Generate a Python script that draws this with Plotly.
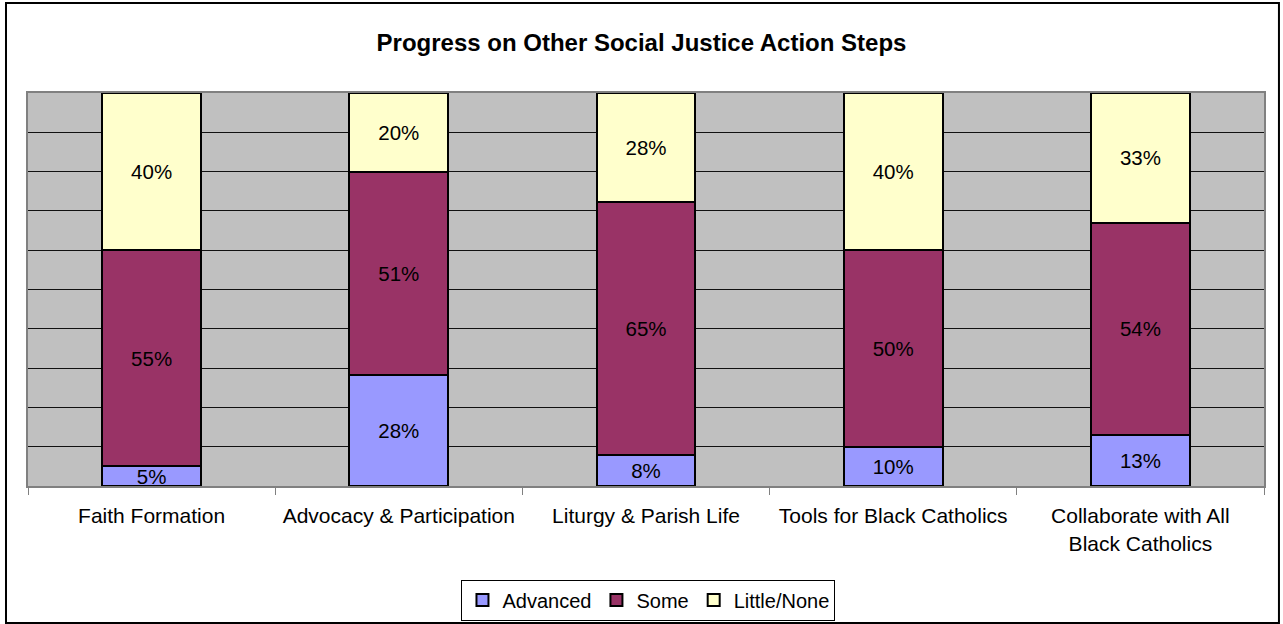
import plotly.graph_objects as go

categories = ["Faith Formation", "Advocacy & Participation", "Liturgy & Parish Life",
              "Tools for Black Catholics", "Collaborate with All<br>Black Catholics"]
advanced = [5, 28, 8, 10, 13]
some = [55, 51, 65, 50, 54]
little_none = [40, 20, 28, 40, 33]

series = [("Advanced", advanced, "#9999FF"),
          ("Some", some, "#993366"),
          ("Little/None", little_none, "#FFFFCC")]

FONT = "Arial, Liberation Sans, sans-serif"

fig = go.Figure()
for name, vals, col in series:
    fig.add_trace(go.Bar(
        x=categories, y=vals, name=name,
        marker=dict(color=col, line=dict(color="black", width=2)),
        text=[f"{v}%" for v in vals],
        texttemplate="%{text}",
        textposition="inside",
        insidetextanchor="middle",
        textangle=0,
        constraintext="none",
        textfont=dict(size=20.5, color="black", family=FONT),
        width=0.4,
    ))

fig.update_layout(
    barmode="stack",
    barnorm="percent",
    width=1283, height=624,
    margin=dict(l=28, r=19, t=93, b=138, autoexpand=False),
    paper_bgcolor="white",
    plot_bgcolor="#C0C0C0",
    font=dict(family=FONT, size=21, color="black"),
    title=dict(text="<b>Progress on Other Social Justice Action Steps</b>",
               x=0.5, xanchor="center", y=0.931, yanchor="middle",
               font=dict(size=24, color="black", family=FONT)),
    legend=dict(orientation="h", x=0.502, xanchor="center",
                y=1 - 600 / 624, yref="container", yanchor="middle",
                bordercolor="black", borderwidth=1, bgcolor="white",
                font=dict(size=20), traceorder="normal",
                itemwidth=30, tracegroupgap=0),
    showlegend=True,
)

fig.update_xaxes(
    showgrid=False, ticks="outside", tickson="boundaries", ticklen=7,
    tickcolor="#808080", tickwidth=1,
    showline=True, linecolor="#808080", linewidth=2, mirror=True,
    ticklabelstandoff=10, automargin=False,
    tickfont=dict(size=21, color="black"),
)
fig.update_yaxes(
    range=[0, 100], dtick=10, showticklabels=False, ticks="",
    showgrid=True, gridcolor="#111111", gridwidth=1,
    showline=True, linecolor="#808080", linewidth=2, mirror=True,
    zeroline=False, automargin=False,
)

# outer chart border
fig.add_shape(type="rect", xref="paper", yref="paper",
              x0=-0.0178, x1=1.0121, y0=-0.3486, y1=1.229,
              line=dict(color="black", width=2), fillcolor="rgba(0,0,0,0)",
              layer="below")

fig.write_html("out.html", config={"displayModeBar": False},
               post_script="document.body.style.margin='0';")
